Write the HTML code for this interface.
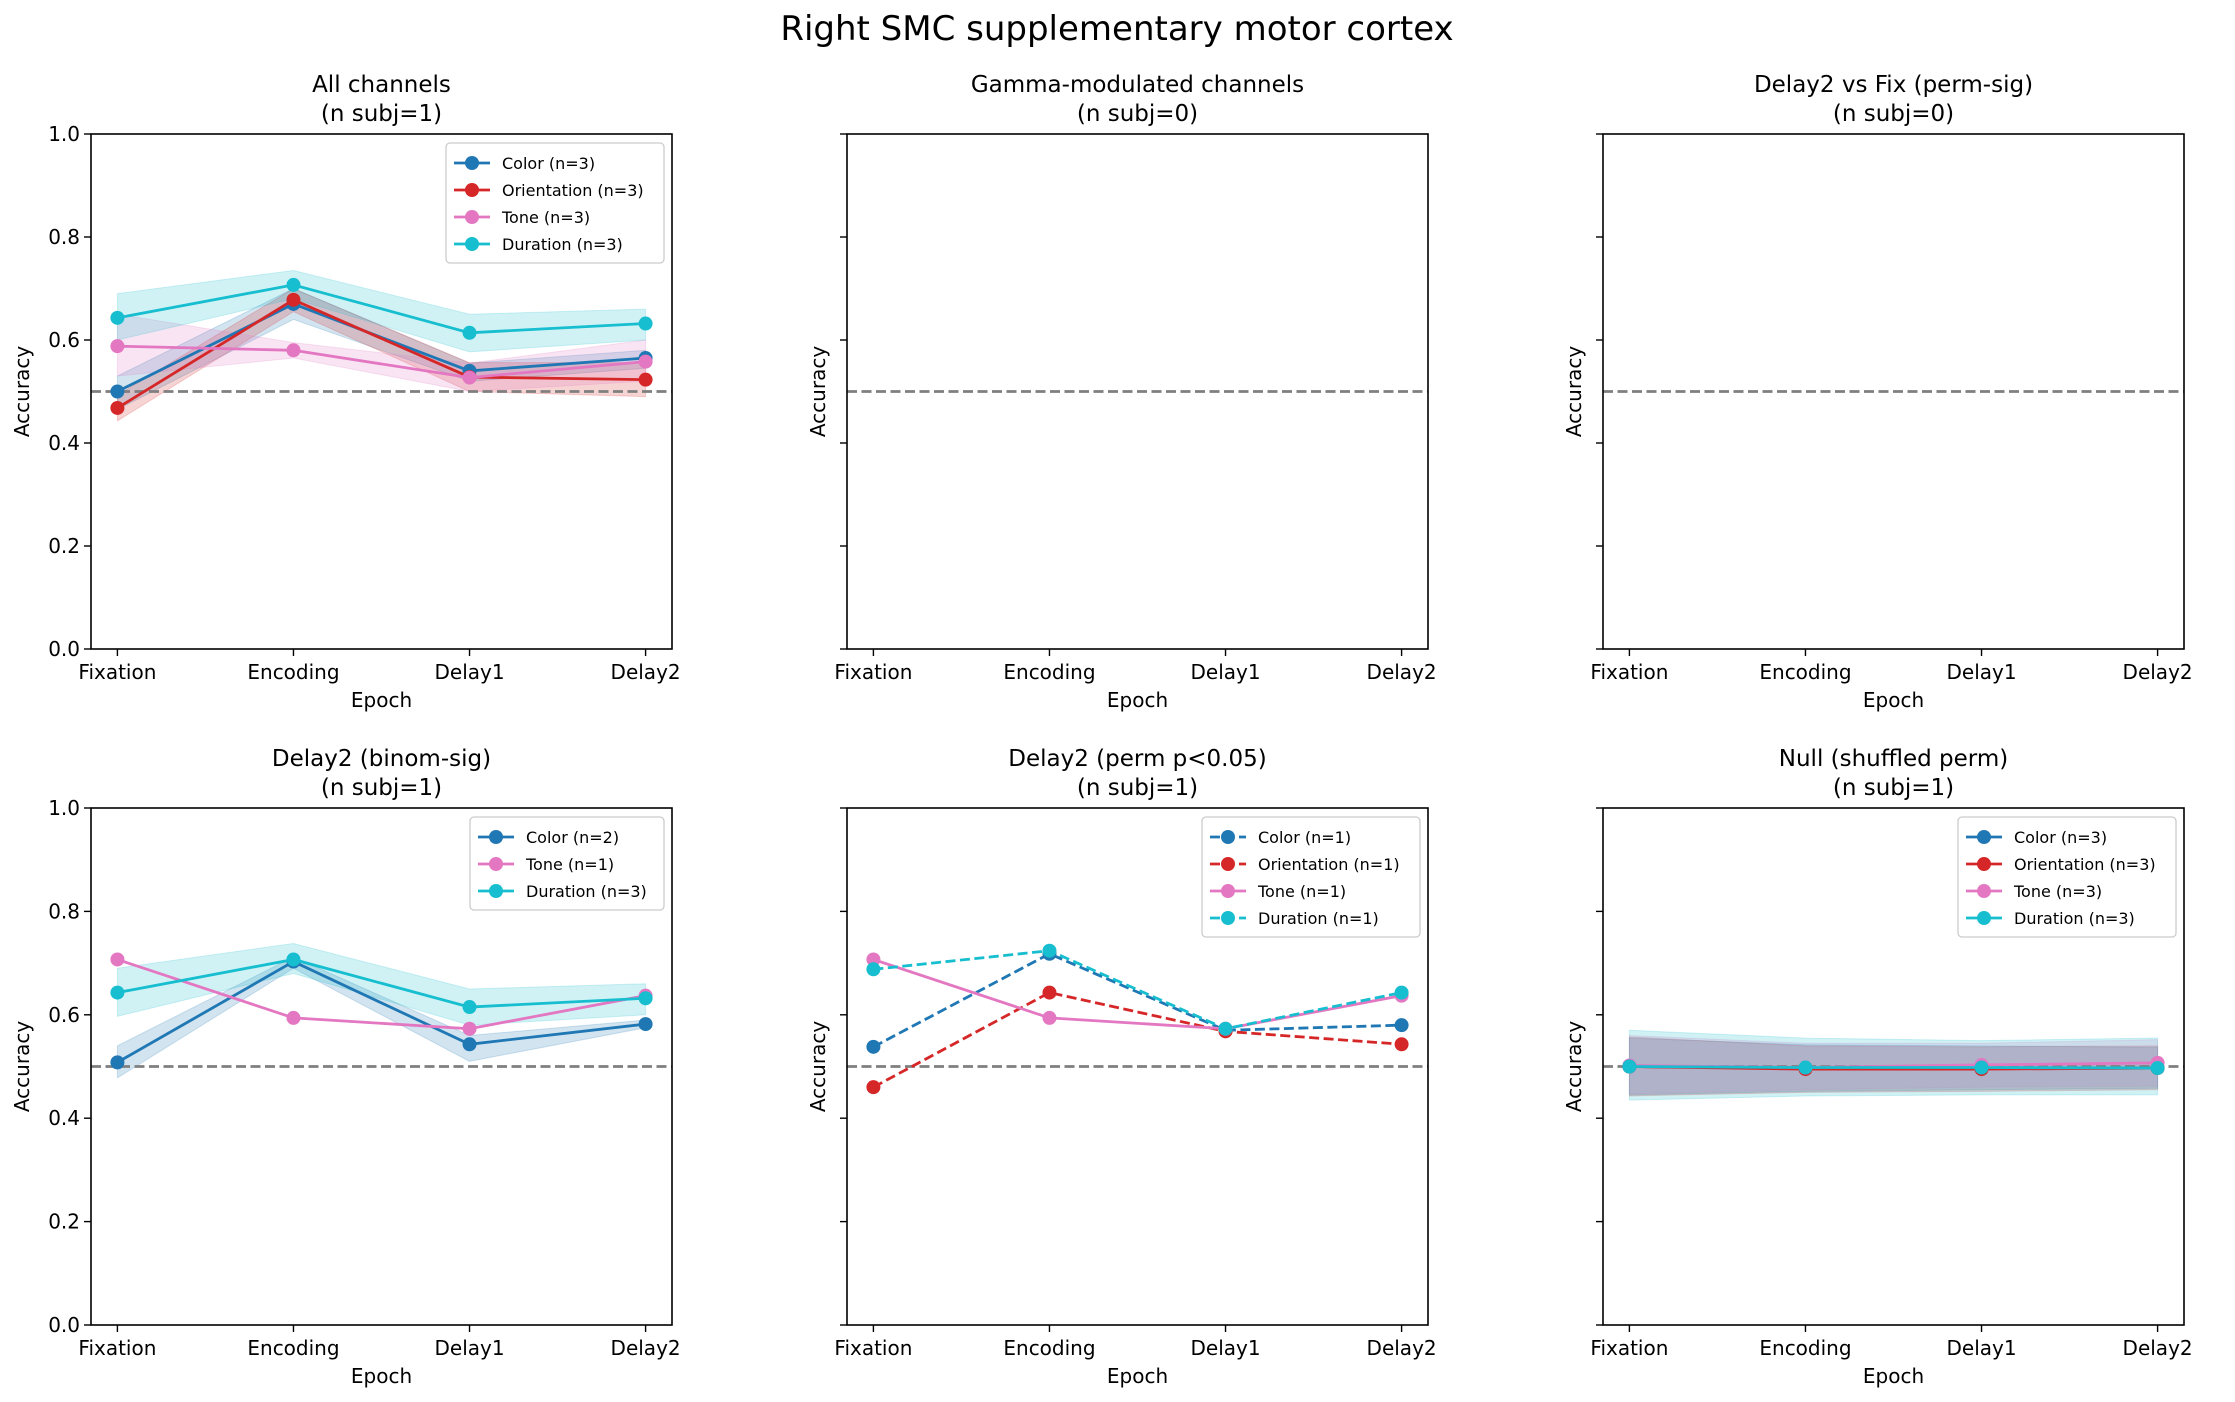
<!DOCTYPE html>
<html><head><meta charset="utf-8"><style>
body{margin:0;background:#fff}
svg{font-family:"DejaVu Sans","Liberation Sans",sans-serif}
</style></head><body>
<svg id="fig" width="2235" height="1397" xmlns="http://www.w3.org/2000/svg">
<text x="1117" y="40" text-anchor="middle" font-size="34">Right SMC supplementary motor cortex</text>
</svg>
<script>
const categories=["Fixation","Encoding","Delay1","Delay2"];
const yTicks=[0,0.2,0.4,0.6,0.8,1.0];
const yTickLabels=["0.0","0.2","0.4","0.6","0.8","1.0"];
const colors={Color:"#1f77b4",Orientation:"#d62728",Tone:"#e377c2",Duration:"#17becf"};
// panel 1
const p1Color=[0.50,0.67,0.54,0.565], p1ColorLo=[0.465,0.64,0.52,0.545], p1ColorHi=[0.53,0.70,0.555,0.58];
const p1Ori=[0.468,0.678,0.528,0.523], p1OriLo=[0.443,0.655,0.50,0.49], p1OriHi=[0.493,0.70,0.556,0.556];
const p1Tone=[0.588,0.58,0.527,0.558], p1ToneLo=[0.53,0.565,0.50,0.52], p1ToneHi=[0.65,0.595,0.555,0.60];
const p1Dur=[0.643,0.707,0.614,0.632], p1DurLo=[0.60,0.68,0.577,0.60], p1DurHi=[0.69,0.735,0.65,0.66];
// panel 4
const p4Color=[0.508,0.703,0.543,0.582], p4ColorLo=[0.478,0.69,0.51,0.575], p4ColorHi=[0.54,0.712,0.56,0.59];
const p4Tone=[0.707,0.594,0.573,0.637];
const p4Dur=[0.643,0.707,0.615,0.632], p4DurLo=[0.597,0.68,0.58,0.60], p4DurHi=[0.69,0.738,0.65,0.66];
// panel 5
const p5Color=[0.538,0.718,0.57,0.58];
const p5Ori=[0.46,0.643,0.568,0.543];
const p5Tone=[0.707,0.594,0.573,0.637];
const p5Dur=[0.688,0.724,0.573,0.643];
// panel 6
const p6Color=[0.5,0.497,0.497,0.497], p6ColorLo=[0.445,0.452,0.455,0.458], p6ColorHi=[0.555,0.542,0.54,0.537];
const p6Ori=[0.5,0.495,0.495,0.497], p6OriLo=[0.443,0.45,0.452,0.455], p6OriHi=[0.557,0.54,0.538,0.54];
const p6Tone=[0.502,0.498,0.503,0.507], p6ToneLo=[0.447,0.455,0.46,0.462], p6ToneHi=[0.56,0.545,0.545,0.552];
const p6Dur=[0.5,0.498,0.498,0.497], p6DurLo=[0.435,0.443,0.445,0.445], p6DurHi=[0.57,0.555,0.55,0.555];

const NS="http://www.w3.org/2000/svg";
const fig=document.getElementById('fig');
function mk(tag,attrs,parent){const e=document.createElementNS(NS,tag);for(const k in attrs)e.setAttribute(k,attrs[k]);(parent||fig).appendChild(e);return e;}

const cols=[91,847,1603], W=581;
const rows=[{t:134,b:649},{t:808,b:1325}];

const panels=[
 {c:0,r:0,title:"All channels",sub:"(n subj=1)",labels:true,series:[
  {k:"Color",n:3,v:p1Color,lo:p1ColorLo,hi:p1ColorHi},
  {k:"Orientation",n:3,v:p1Ori,lo:p1OriLo,hi:p1OriHi},
  {k:"Tone",n:3,v:p1Tone,lo:p1ToneLo,hi:p1ToneHi},
  {k:"Duration",n:3,v:p1Dur,lo:p1DurLo,hi:p1DurHi}]},
 {c:1,r:0,title:"Gamma-modulated channels",sub:"(n subj=0)",labels:false,series:[]},
 {c:2,r:0,title:"Delay2 vs Fix (perm-sig)",sub:"(n subj=0)",labels:false,series:[]},
 {c:0,r:1,title:"Delay2 (binom-sig)",sub:"(n subj=1)",labels:true,series:[
  {k:"Color",n:2,v:p4Color,lo:p4ColorLo,hi:p4ColorHi},
  {k:"Tone",n:1,v:p4Tone},
  {k:"Duration",n:3,v:p4Dur,lo:p4DurLo,hi:p4DurHi}]},
 {c:1,r:1,title:"Delay2 (perm p<0.05)",sub:"(n subj=1)",labels:false,series:[
  {k:"Color",n:1,v:p5Color,dash:true},
  {k:"Orientation",n:1,v:p5Ori,dash:true},
  {k:"Tone",n:1,v:p5Tone},
  {k:"Duration",n:1,v:p5Dur,dash:true}]},
 {c:2,r:1,title:"Null (shuffled perm)",sub:"(n subj=1)",labels:false,series:[
  {k:"Color",n:3,v:p6Color,lo:p6ColorLo,hi:p6ColorHi},
  {k:"Orientation",n:3,v:p6Ori,lo:p6OriLo,hi:p6OriHi},
  {k:"Tone",n:3,v:p6Tone,lo:p6ToneLo,hi:p6ToneHi},
  {k:"Duration",n:3,v:p6Dur,lo:p6DurLo,hi:p6DurHi}]}
];

panels.forEach((p,pi)=>{
 const L=cols[p.c], R=L+W, T=rows[p.r].t, B=rows[p.r].b;
 const xs=i=>L+(i+0.15)/3.3*W;
 const ys=v=>B-v*(B-T);
 const g=mk('g',{});
 
 
 const t1=mk('text',{x:(L+R)/2,y:T-42,'text-anchor':'middle','font-size':23},g);t1.textContent=p.title;
 
 const t2=mk('text',{x:(L+R)/2,y:T-13,'text-anchor':'middle','font-size':23},g);t2.textContent=p.sub;
 
 p.series.forEach(s=>{ if(!s.lo)return;
  let d='M'+s.hi.map((v,i)=>xs(i)+','+ys(v)).join('L');
  d+='L'+s.lo.map((v,i)=>xs(i)+','+ys(v)).reverse().join('L')+'Z';
  const b=mk('path',{d:d,fill:colors[s.k],'fill-opacity':0.2,stroke:colors[s.k],'stroke-opacity':0.2},g);
  
 });
 const cl=mk('line',{x1:L,x2:R,y1:ys(0.5),y2:ys(0.5),stroke:'#7f7f7f','stroke-width':2.8,'stroke-dasharray':'10,4.5'},g);
 
 p.series.forEach(s=>{
  const ln=mk('polyline',{points:s.v.map((v,i)=>xs(i)+','+ys(v)).join(' '),fill:'none',stroke:colors[s.k],'stroke-width':2.8,'stroke-dasharray':s.dash?'10,4.5':'none'},g);
  
  s.v.forEach((v,i)=>{const c=mk('circle',{cx:xs(i),cy:ys(v),r:7,fill:colors[s.k]},g);
   });
 });
 const fr=mk('rect',{x:L,y:T,width:W,height:B-T,fill:'none',stroke:'#000','stroke-width':1.6},g);
 
 yTicks.forEach((v,i)=>{
  mk('line',{x1:L-7,x2:L,y1:ys(v),y2:ys(v),stroke:'#000','stroke-width':1.4},g);
  if(p.labels){const tl=mk('text',{x:L-11,y:ys(v)+7,'text-anchor':'end','font-size':20},g);tl.textContent=yTickLabels[i];
   }
 });
 categories.forEach((c,i)=>{
  mk('line',{x1:xs(i),x2:xs(i),y1:B,y2:B+7,stroke:'#000','stroke-width':1.4},g);
  const tl=mk('text',{x:xs(i),y:B+30,'text-anchor':'middle','font-size':20},g);tl.textContent=c;
  
 });
 const xl=mk('text',{x:(L+R)/2,y:B+58,'text-anchor':'middle','font-size':20},g);xl.textContent='Epoch';
 
 const yx=p.labels?L-62:L-22, yy=(T+B)/2;
 const yl=mk('text',{x:yx,y:yy,'text-anchor':'middle','font-size':20,transform:`rotate(-90 ${yx} ${yy})`},g);yl.textContent='Accuracy';
 
 if(p.series.length){
  const lw=p.series.some(s=>s.k==='Orientation')?218:194, rh=27;
  const lx=R-lw-8, ly=T+9;
  const lg=mk('g',{},g);
  
  mk('rect',{x:lx,y:ly,width:lw,height:p.series.length*rh+12,rx:4,fill:'#fff','fill-opacity':0.8,stroke:'#ccc','stroke-width':1.3},lg);
  p.series.forEach((s,i)=>{
   const yy2=ly+20+i*rh;
   mk('line',{x1:lx+8,x2:lx+44,y1:yy2,y2:yy2,stroke:colors[s.k],'stroke-width':2.8,'stroke-dasharray':s.dash?'10,4.5':'none'},lg);
   mk('circle',{cx:lx+26,cy:yy2,r:7,fill:colors[s.k]},lg);
   const tt=mk('text',{x:lx+56,y:yy2+6,'font-size':16},lg);tt.textContent=s.k+' (n='+s.n+')';
   
  });
 }
});
</script>
</body></html>
